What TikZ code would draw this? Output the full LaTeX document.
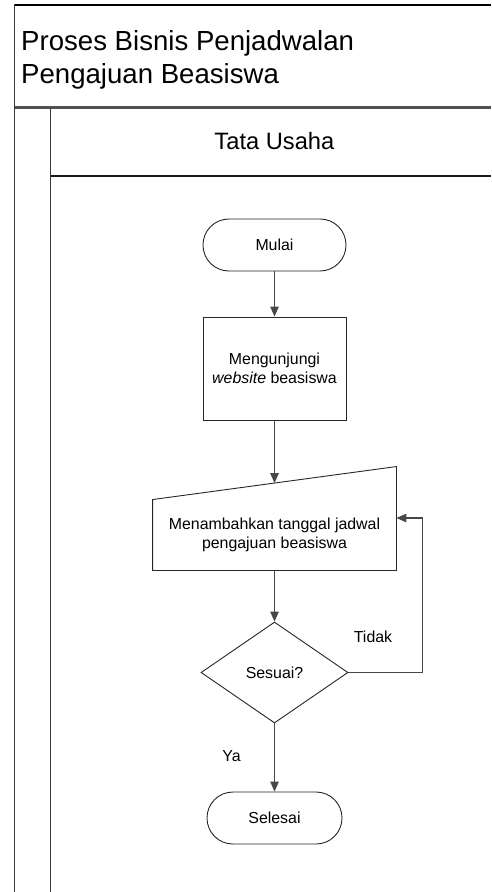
\documentclass[tikz,border=0pt]{standalone}
\usepackage{fontspec}
\setmainfont{Liberation Sans}
\usetikzlibrary{shapes.geometric,arrows.meta}
\begin{document}
\begin{tikzpicture}[x=1pt,y=-1pt,
  frame/.style={line width=1.8pt,draw=black!78},
  shapebox/.style={draw=black!85,line width=0.9pt,fill=white,inner sep=0pt,font=\fontsize{15.9}{18.5}\selectfont,align=center},
  terminal/.style={shapebox,rectangle,rounded corners=25.9pt,minimum height=52pt},
  process/.style={shapebox,rectangle,minimum width=143pt,minimum height=103pt},
  decision/.style={shapebox,diamond,minimum width=147pt,minimum height=101pt},
  conn/.style={draw=black!72,line width=1.2pt,-{Triangle[length=10pt,width=8.5pt]}},
  lbl/.style={font=\fontsize{15.9}{18.5}\selectfont,inner sep=0pt}
]
\useasboundingbox (0,0) rectangle (491,892);
% frame
\draw[line width=1.3pt,black] (14.5,5) -- (491,5);
\draw[frame] (14.5,4.4) -- (14.5,892);
\draw[line width=3pt,draw=black!68] (14.5,107.5) -- (491,107.5);
\draw[frame] (50.5,107.5) -- (50.5,892);
\draw[line width=1.4pt,black!90] (50.5,176) -- (491,176);
\node[anchor=north west,inner sep=0pt,align=left,font=\fontsize{27.6}{33.3}\selectfont] (title) at (21,30.3) {Proses Bisnis Penjadwalan\\Pengajuan Beasiswa};
\node[inner sep=0pt,font=\fontsize{23.7}{28}\selectfont] (lane) at (274.4,141) {Tata Usaha};
% nodes
\node[terminal,minimum width=143pt] (mulai) at (274.5,245) {Mulai};
\node[process] (web) at (274.5,368.5) {Mengunjungi\\\textit{website} beasiswa};
\node[shapebox,rectangle,draw=none,fill=none,minimum width=243pt,minimum height=70pt] (mi) at (274.5,535) {Menambahkan tanggal jadwal\\pengajuan beasiswa};
\draw[draw=black!85,line width=0.9pt] (mi.south west) -- (mi.north west) -- ([yshift=33pt]mi.north east) -- (mi.south east) -- cycle;
\coordinate (miin) at ([yshift=16.5pt]mi.north);
\coordinate (mifb) at ([yshift=17pt]mi.east);
\node[decision] (ok) at (274.5,672.5) {Sesuai?};
\node[terminal,minimum width=135pt] (selesai) at (274.5,818) {Selesai};
\coordinate (loop) at (422.5,672.5);
% connectors
\draw[conn] (mulai) -- (web);
\draw[conn] (web) -- (miin);
\draw[conn] (mi) -- (ok);
\draw[conn] (ok) -- (selesai);
\draw[conn] (ok.east) -- (loop) |- (mifb);
\node[lbl] (tidak) at (373,637) {Tidak};
\node[lbl] (ya) at (231.5,756) {Ya};
\end{tikzpicture}
\end{document}
